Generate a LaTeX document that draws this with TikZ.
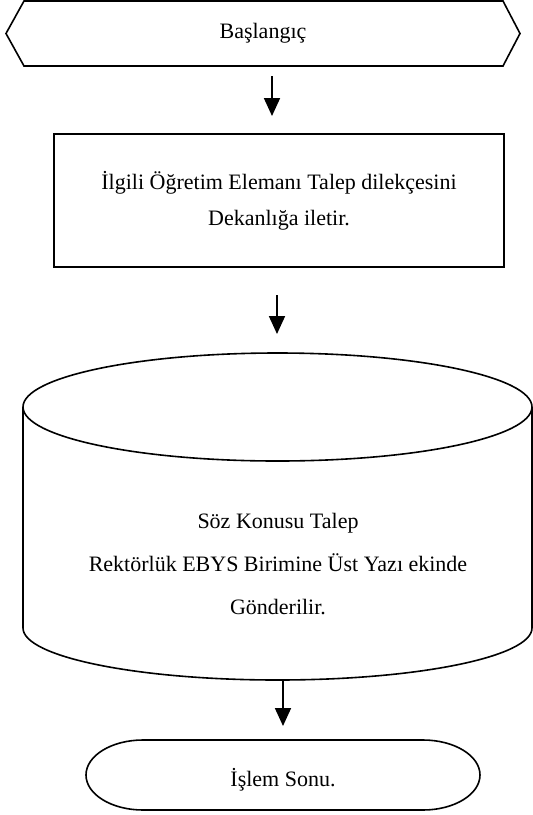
\documentclass[tikz,border=0pt]{standalone}
\usepackage{fontspec}
\setmainfont{Liberation Serif}
\usetikzlibrary{arrows.meta}
\begin{document}
\begin{tikzpicture}[x=1pt,y=-1pt,
  shape line/.style={draw=black,line width=1.6pt,line join=miter},
  flow/.style={draw=black,line width=1.8pt,-{Triangle[width=16pt,length=18pt]}},
  lbl/.style={anchor=base,inner sep=0pt,font=\fontsize{22}{26}\selectfont}]
\useasboundingbox (0,0) rectangle (533,815);
% hexagon (start)
\draw[shape line] (24,1) -- (503,1) -- (520,33.5) -- (503,66) -- (24,66) -- (6,33.5) -- cycle;
\node[lbl] (start) at (263,38) {Başlangıç};
% process box
\draw[shape line] (54,134) rectangle (504,267);
\node[lbl] (p1) at (279,189) {İlgili Öğretim Elemanı Talep dilekçesini};
\node[lbl] (p2) at (279,225) {Dekanlığa iletir.};
% cylinder
\draw[shape line] (277.5,407) ellipse [x radius=254.5, y radius=54];
\draw[shape line] (23,407) -- (23,628)
  .. controls (23,656.7) and (137,680) .. (277.5,680)
  .. controls (418,680) and (532,656.7) .. (532,628) -- (532,407);
\node[lbl] (c1) at (278,528) {Söz Konusu Talep};
\node[lbl] (c2) at (278,571) {Rektörlük EBYS Birimine Üst Yazı ekinde};
\node[lbl] (c3) at (278,614) {Gönderilir.};
% terminator
\draw[shape line] (143,740) -- (423,740)
  .. controls (454.5,740) and (480,755.7) .. (480,775)
  .. controls (480,794.3) and (454.5,810) .. (423,810)
  -- (143,810)
  .. controls (111.5,810) and (86,794.3) .. (86,775)
  .. controls (86,755.7) and (111.5,740) .. cycle;
\node[lbl] (end) at (283,786) {İşlem Sonu.};
% arrows
\coordinate (a1s) at (272,76);
\coordinate (a1e) at (272,116);
\coordinate (a2s) at (277,295);
\coordinate (a2e) at (277,334);
\coordinate (a3s) at (283,680);
\coordinate (a3e) at (283,726);
\draw[flow] (a1s) -- (a1e);
\draw[flow] (a2s) -- (a2e);
\draw[flow] (a3s) -- (a3e);
\end{tikzpicture}
\end{document}
